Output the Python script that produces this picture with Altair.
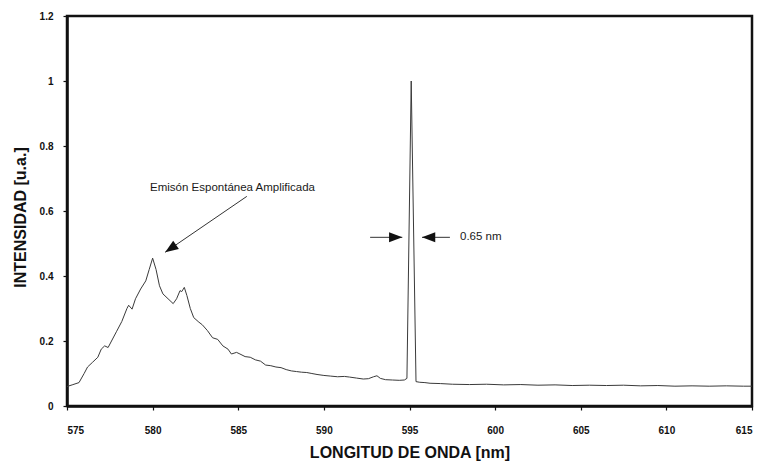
import math
import altair as alt
import pandas as pd

# ---- data ----
wavelength = [575.0, 575.3, 575.7, 576.0, 576.2, 576.5, 576.8, 577.0, 577.2, 577.4,
              577.6, 577.9, 578.2, 578.5, 578.6, 578.8, 579.0, 579.3, 579.6, 579.8,
              580.0, 580.2, 580.4, 580.6, 580.9, 581.2, 581.4, 581.6, 581.7, 581.85,
              582.0, 582.2, 582.4, 582.7, 582.9, 583.2, 583.5, 583.8, 584.1, 584.4,
              584.6, 584.9, 585.1, 585.4, 585.7, 586.0, 586.3, 586.6, 586.9, 587.2,
              587.5, 587.8, 588.1, 588.4, 588.7, 589.0, 589.3, 589.6, 590.0, 590.4,
              590.8, 591.2, 591.5, 591.9, 592.3, 592.6, 592.9, 593.1, 593.3, 593.6,
              594.0, 594.4, 594.7, 594.85, 595.1, 595.38, 595.6, 595.9, 596.2, 596.8,
              597.5, 598.5, 599.5, 600.5, 601.5, 602.5, 603.5, 604.5, 605.5, 606.5,
              607.5, 608.5, 609.5, 610.5, 611.5, 612.5, 613.5, 614.5, 615.0]
intensity = [0.060, 0.065, 0.072, 0.100, 0.120, 0.135, 0.150, 0.175, 0.185, 0.180,
             0.200, 0.230, 0.260, 0.300, 0.310, 0.298, 0.330, 0.360, 0.385, 0.420,
             0.455, 0.420, 0.370, 0.345, 0.330, 0.315, 0.330, 0.355, 0.352, 0.365,
             0.340, 0.300, 0.272, 0.258, 0.250, 0.232, 0.210, 0.205, 0.185, 0.175,
             0.160, 0.165, 0.160, 0.152, 0.150, 0.142, 0.138, 0.126, 0.124, 0.120,
             0.118, 0.112, 0.108, 0.106, 0.104, 0.103, 0.100, 0.097, 0.094, 0.092,
             0.090, 0.091, 0.089, 0.086, 0.083, 0.084, 0.090, 0.093, 0.085, 0.081,
             0.080, 0.079, 0.080, 0.085, 1.000, 0.075, 0.073, 0.072, 0.070, 0.069,
             0.067, 0.066, 0.067, 0.065, 0.066, 0.064, 0.065, 0.063, 0.064, 0.063,
             0.064, 0.062, 0.063, 0.061, 0.062, 0.061, 0.062, 0.061, 0.061]

x_ticks = [575, 580, 585, 590, 595, 600, 605, 610, 615]
y_ticks = [0, 0.2, 0.4, 0.6, 0.8, 1.0, 1.2]

# annotations (data coordinates)
ase_label = "Emisón Espontánea Amplificada"
ase_label_pos = (579.85, 0.67)
ase_arrow_from = (585.5, 0.645)
ase_arrow_to = (580.73, 0.473)

fwhm_label = "0.65 nm"
fwhm_label_pos = (597.95, 0.519)
fwhm_left_from = (592.7, 0.519)
fwhm_left_to = (594.58, 0.519)
fwhm_right_from = (597.36, 0.519)
fwhm_right_to = (595.73, 0.519)

# ---- layout ----
W, H = 685, 390
XMIN, XMAX, YMIN, YMAX = 575, 615, 0, 1.2
FONT = "Liberation Sans"
INK = "#111111"

xscale = alt.Scale(domain=[XMIN, XMAX], nice=False, zero=False)
yscale = alt.Scale(domain=[YMIN, YMAX], nice=False)

spec = pd.DataFrame({"wl": wavelength, "I": intensity})

line = alt.Chart(spec).mark_line(color="#3a3a3a", strokeWidth=1).encode(
    x=alt.X("wl:Q", scale=xscale,
            axis=alt.Axis(values=x_ticks, title="LONGITUD DE ONDA [nm]", format="d",
                          labelFont=FONT, labelFontWeight=700, labelFontSize=10,
                          labelColor=INK, labelPadding=15, tickSize=4, tickColor=INK,
                          tickWidth=1.2, domainColor=INK, domainWidth=2.5, grid=False,
                          titleFont=FONT, titleFontSize=16, titleFontWeight="bold",
                          titleColor=INK, titleX=W / 2, titleY=46,
                          titleBaseline="middle", titleAlign="center")),
    y=alt.Y("I:Q", scale=yscale,
            axis=alt.Axis(values=y_ticks, title="INTENSIDAD [u.a.]", format="~g",
                          labelFont=FONT, labelFontWeight=700, labelFontSize=10,
                          labelColor=INK, labelPadding=10, tickSize=4, tickColor=INK,
                          tickWidth=1.2, domainColor=INK, domainWidth=2.5, grid=False,
                          titleFont=FONT, titleFontSize=16, titleFontWeight="bold",
                          titleColor=INK, titleX=-47, titleY=H / 2 + 6,
                          titleBaseline="middle", titleAlign="center")),
)

# arrow shafts
shafts = pd.DataFrame({
    "x": [ase_arrow_from[0], fwhm_left_from[0], fwhm_right_from[0]],
    "y": [ase_arrow_from[1], fwhm_left_from[1], fwhm_right_from[1]],
    "x2": [ase_arrow_to[0], fwhm_left_to[0], fwhm_right_to[0]],
    "y2": [ase_arrow_to[1], fwhm_left_to[1], fwhm_right_to[1]],
})
rules = alt.Chart(shafts).mark_rule(color="#333333", strokeWidth=1).encode(
    x=alt.X("x:Q", scale=xscale), y=alt.Y("y:Q", scale=yscale),
    x2="x2:Q", y2="y2:Q")


def screen_angle(p_from, p_to):
    dx = (p_to[0] - p_from[0]) / (XMAX - XMIN) * W
    dy = -(p_to[1] - p_from[1]) / (YMAX - YMIN) * H
    return math.degrees(math.atan2(dy, dx)) % 360


heads = pd.DataFrame({
    "x": [ase_arrow_to[0], fwhm_left_to[0], fwhm_right_to[0]],
    "y": [ase_arrow_to[1], fwhm_left_to[1], fwhm_right_to[1]],
    "ang": [screen_angle(ase_arrow_from, ase_arrow_to),
            screen_angle(fwhm_left_from, fwhm_left_to),
            screen_angle(fwhm_right_from, fwhm_right_to)],
})
arrow_path = "M0,0L-1,-0.38L-1,0.38Z"
heads_layer = alt.Chart(heads).mark_point(
    shape=arrow_path, filled=True, color="#111111", opacity=1, size=700, strokeWidth=0
).encode(x=alt.X("x:Q", scale=xscale), y=alt.Y("y:Q", scale=yscale),
         angle=alt.Angle("ang:Q", scale=None))

labels = pd.DataFrame({
    "x": [ase_label_pos[0], fwhm_label_pos[0]],
    "y": [ase_label_pos[1], fwhm_label_pos[1]],
    "t": [ase_label, fwhm_label],
})
texts = alt.Chart(labels).mark_text(
    align="left", baseline="middle", font=FONT, fontSize=11.5, color="#1a1a1a"
).encode(x=alt.X("x:Q", scale=xscale), y=alt.Y("y:Q", scale=yscale), text="t:N")

chart = alt.layer(line, rules, heads_layer, texts).properties(
    width=W, height=H,
    autosize=alt.AutoSizeParams(type="none"),
    padding={"left": 67, "top": 16, "right": 11, "bottom": 56},
    background="white",
).configure_view(stroke=INK, strokeWidth=2.5)

chart.save("out.html", embed_options={"renderer": "svg", "actions": False})
